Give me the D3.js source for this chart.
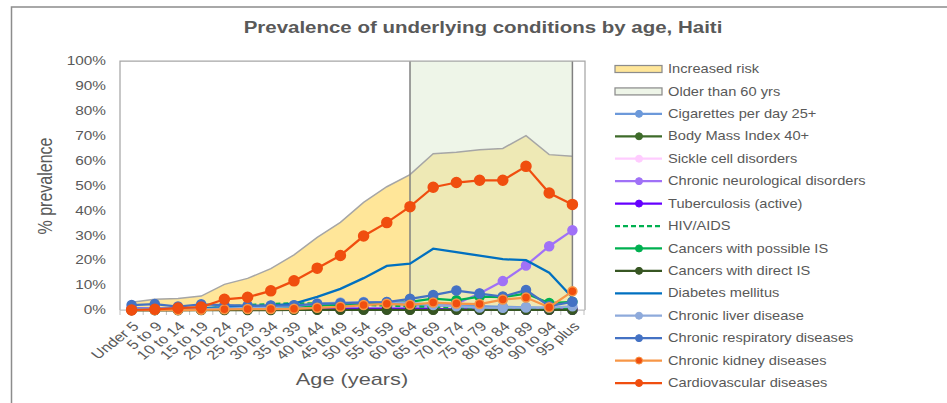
<!DOCTYPE html>
<html>
<head>
<meta charset="utf-8">
<script src="https://cdn.jsdelivr.net/npm/d3@7"></script>
<style>
  body { margin: 0; background: #fff; }
  svg { display: block; font-family: 'Liberation Sans', Arial, sans-serif; }
</style>
</head>
<body>
<svg id="chart" width="947" height="403"></svg>
<script>
// age groups on the x axis
const ages = ['Under 5', '5 to 9', '10 to 14', '15 to 19', '20 to 24', '25 to 29', '30 to 34', '35 to 39',
    '40 to 44', '45 to 49', '50 to 54', '55 to 59', '60 to 64', '65 to 69', '70 to 74', '75 to 79',
    '80 to 84', '85 to 89', '90 to 94', '95 plus'];
const yTicks = [0, 10, 20, 30, 40, 50, 60, 70, 80, 90, 100];

// % prevalence per age group
const increasedRisk = [3.1, 4.3, 4.6, 5.6, 10.3, 12.7, 16.6, 22.1, 29.2, 35.2, 43.2, 49.5, 54.4, 62.8, 63.4, 64.4, 64.9, 70.0, 62.4, 61.7];
const cigarettes = [0, 0, 0, 0.3, 1.0, 1.4, 1.7, 1.9, 2.1, 2.3, 2.4, 2.4, 2.2, 2.0, 1.8, 1.6, 1.3, 1.1, 0.9, 0.7];
const bmi40 = [0, 0, 0, 0.1, 0.2, 0.3, 0.3, 0.3, 0.3, 0.3, 0.3, 0.3, 0.2, 0.2, 0.2, 0.2, 0.1, 0.1, 0.1, 0.1];
const sickleCell = [0.6, 0.6, 0.5, 0.5, 0.5, 0.5, 0.5, 0.4, 0.4, 0.4, 0.4, 0.4, 0.4, 0.3, 0.3, 0.3, 0.3, 0.3, 0.3, 0.3];
const neuro = [0.8, 0.7, 0.6, 0.6, 0.6, 0.6, 0.6, 0.7, 0.7, 0.8, 0.8, 0.9, 1.0, 1.2, 2.5, 6.6, 11.6, 17.9, 25.6, 32.0];
const tuberculosis = [0.1, 0.1, 0.1, 0.2, 0.3, 0.3, 0.4, 0.4, 0.4, 0.4, 0.4, 0.4, 0.4, 0.4, 0.3, 0.3, 0.3, 0.2, 0.2, 0.2];
const hiv = [0.1, 0.1, 0.1, 0.4, 1.3, 2.0, 2.4, 2.7, 2.6, 2.3, 2.0, 1.8, 1.5, 1.2, 1.0, 0.8, 0.6, 0.5, 0.4, 0.3];
const cancerPossible = [0.1, 0.1, 0.1, 0.2, 0.6, 0.9, 1.2, 1.5, 1.8, 2.2, 2.6, 2.9, 3.3, 4.6, 3.9, 5.4, 5.2, 6.6, 2.8, 3.3];
const cancerDirect = [0, 0, 0, 0, 0, 0, 0, 0.1, 0.1, 0.1, 0.1, 0.1, 0.1, 0.1, 0.1, 0.1, 0.1, 0.1, 0.1, 0.1];
const diabetes = [0.5, 0.5, 0.6, 0.8, 1.2, 1.5, 1.8, 2.6, 5.3, 8.5, 12.8, 17.7, 18.6, 24.6, 23.2, 21.8, 20.4, 20.0, 15.0, 5.0];
const liver = [0.3, 0.3, 0.3, 0.4, 0.6, 0.9, 1.2, 1.6, 2.6, 3.0, 3.2, 3.2, 3.0, 2.0, 1.5, 1.0, 0.9, 1.0, 1.0, 1.5];
const respiratory = [2.0, 2.4, 1.4, 2.3, 2.0, 1.8, 1.8, 1.9, 2.5, 2.7, 3.0, 3.2, 4.5, 6.0, 7.8, 6.6, 5.4, 8.0, 1.6, 3.3];
const kidney = [0, 0, 0, 0.1, 0.3, 0.4, 0.4, 0.5, 0.9, 1.3, 2.0, 2.5, 2.1, 3.0, 2.6, 2.4, 4.2, 5.0, 1.1, 7.5];
const cardio = [0, 0.3, 0.8, 1.2, 4.3, 5.1, 7.7, 11.7, 16.8, 21.9, 29.7, 35.1, 41.5, 49.3, 51.2, 52.1, 52.1, 57.7, 47.0, 42.4];

const series = [
    { name: 'Cigarettes per day 25+', values: cigarettes, color: '#6C99DA', marker: true },
    { name: 'Body Mass Index 40+', values: bmi40, color: '#3E6B2A', marker: true },
    { name: 'Sickle cell disorders', values: sickleCell, color: '#FFCCFF', marker: true },
    { name: 'Chronic neurological disorders', values: neuro, color: '#A071F7', marker: true },
    { name: 'Tuberculosis (active)', values: tuberculosis, color: '#6600FF', marker: true },
    { name: 'HIV/AIDS', values: hiv, color: '#00B050', marker: false, dash: '5,3' },
    { name: 'Cancers with possible IS', values: cancerPossible, color: '#00B050', marker: true },
    { name: 'Cancers with direct IS', values: cancerDirect, color: '#375623', marker: true },
    { name: 'Diabetes mellitus', values: diabetes, color: '#0070C0', marker: false },
    { name: 'Chronic liver disease', values: liver, color: '#8EAADB', marker: true },
    { name: 'Chronic respiratory diseases', values: respiratory, color: '#4472C4', marker: true },
    { name: 'Chronic kidney diseases', values: kidney, color: '#F79646', marker: true, fill: '#F04E0F' },
    { name: 'Cardiovascular diseases', values: cardio, color: '#F04E0F', marker: true, r: 5 }
];

const SX = 1.28; // the source picture is stretched sideways
const textColor = '#595959';
const svg = d3.select('#chart');

const margin = { top: 61, left: 120, right: 585, bottom: 310 };

const x = d3.scaleBand().domain(ages).range([margin.left, margin.right - 1]);
const cx = d => x(d) + x.bandwidth() / 2;
const y = d3.scaleLinear().domain([0, 100]).range([margin.bottom, margin.top]);

function stretchedText(g, tx, ty, str, extra, sx) {
    return g.append('text')
        .attr('transform', 'translate(' + tx + ',' + ty + ') scale(' + (sx || SX) + ',1)' + (extra || ''))
        .attr('fill', textColor)
        .text(str);
}

// outer frame
svg.append('rect')
    .attr('x', 11.5).attr('y', 7)
    .attr('width', 1000).attr('height', 500)
    .attr('fill', 'none').attr('stroke', '#8C8C8C').attr('stroke-width', 1.5);

// title
stretchedText(svg, 483, 33, 'Prevalence of underlying conditions by age, Haiti')
    .attr('text-anchor', 'middle')
    .attr('font-size', 16)
    .attr('font-weight', 'bold');

// increased risk area
const area = d3.area()
    .x((d, i) => cx(ages[i]))
    .y0(y(0))
    .y1(d => y(d));
svg.append('path')
    .datum(increasedRisk)
    .attr('d', area)
    .attr('fill', '#FFE699');

// older than 60 block
const x60 = cx('60 to 64');
const x95 = cx('95 plus');
svg.append('rect')
    .attr('x', x60).attr('y', margin.top)
    .attr('width', x95 - x60).attr('height', margin.bottom - margin.top)
    .attr('fill', '#DDEBD1').attr('fill-opacity', 0.5);

svg.append('path')
    .datum(increasedRisk)
    .attr('d', d3.line().x((d, i) => cx(ages[i])).y(d => y(d)))
    .attr('fill', 'none')
    .attr('stroke', '#A6A6A6')
    .attr('stroke-width', 1.5);

[x60, x95].forEach(v => {
    svg.append('line')
        .attr('x1', v).attr('x2', v)
        .attr('y1', margin.top).attr('y2', margin.bottom)
        .attr('stroke', '#808080').attr('stroke-width', 1.5);
});

// plot border
svg.append('path')
    .attr('d', 'M' + margin.left + ',' + margin.bottom + 'V' + margin.top + 'H' + margin.right + 'V' + margin.bottom)
    .attr('fill', 'none').attr('stroke', '#A6A6A6').attr('stroke-width', 1.25);

// x axis
const xAxis = svg.append('g')
    .attr('transform', 'translate(0,' + margin.bottom + ')');
xAxis.append('line')
    .attr('x1', margin.left).attr('x2', margin.right)
    .attr('stroke', '#BFBFBF').attr('stroke-width', 1.25);
xAxis.selectAll('.tickmark')
    .data(ages.concat(['end']))
    .enter()
    .append('line')
    .attr('x1', (d, i) => margin.left + i * x.step())
    .attr('x2', (d, i) => margin.left + i * x.step())
    .attr('y1', 0).attr('y2', 5)
    .attr('stroke', '#BFBFBF');
ages.forEach(a => {
    stretchedText(svg, cx(a) + 4, margin.bottom + 14, a, ' rotate(-45)')
        .attr('text-anchor', 'end')
        .attr('dy', '0.35em')
        .attr('font-size', 13);
});

// y axis labels
yTicks.forEach(t => {
    stretchedText(svg, 106, y(t), t + '%')
        .attr('text-anchor', 'end')
        .attr('dy', '0.35em')
        .attr('font-size', 12);
});

stretchedText(svg, 52, 186, '% prevalence', ' rotate(-90)')
    .attr('text-anchor', 'middle')
    .attr('font-size', 16);
stretchedText(svg, 352, 385, 'Age (years)')
    .attr('text-anchor', 'middle')
    .attr('font-size', 17);

// series lines and markers
const line = d3.line()
    .x((d, i) => cx(ages[i]))
    .y(d => y(d));

series.forEach(s => {
    const g = svg.append('g');
    g.append('path')
        .datum(s.values)
        .attr('d', line)
        .attr('fill', 'none')
        .attr('stroke', s.color)
        .attr('stroke-width', 2.25)
        .attr('stroke-dasharray', s.dash || null);
    if (s.marker) {
        g.selectAll('circle')
            .data(s.values)
            .enter()
            .append('circle')
            .attr('cx', (d, i) => cx(ages[i]))
            .attr('cy', d => y(d))
            .attr('r', s.r || 4.5)
            .attr('fill', s.fill || s.color)
            .attr('stroke', s.color)
            .attr('stroke-width', 1.5);
    }
});

// legend
const legendItems = [
    { name: 'Increased risk', patch: '#FFE699' },
    { name: 'Older than 60 yrs', patch: '#EEF5E8' }
].concat(series);

const lg = svg.append('g');
const ly = d3.scalePoint()
    .domain(legendItems.map(d => d.name))
    .range([69, 383]);

legendItems.forEach(item => {
    const yy = ly(item.name);
    if (item.patch) {
        lg.append('rect')
            .attr('x', 615).attr('y', yy - 3.5)
            .attr('width', 47).attr('height', 7)
            .attr('fill', item.patch)
            .attr('stroke', '#8C8C8C').attr('stroke-width', 1.25);
    } else {
        lg.append('line')
            .attr('x1', 615).attr('x2', 662)
            .attr('y1', yy).attr('y2', yy)
            .attr('stroke', item.color)
            .attr('stroke-width', 2.25)
            .attr('stroke-dasharray', item.dash || null);
        if (item.marker) {
            lg.append('circle')
                .attr('cx', 639).attr('cy', yy)
                .attr('r', 3.5)
                .attr('fill', item.fill || item.color)
                .attr('stroke', item.color)
                .attr('stroke-width', 1);
        }
    }
    stretchedText(lg, 668, yy, item.name, '', 1.22)
        .attr('dy', '0.35em')
        .attr('font-size', 12);
});
</script>
</body>
</html>
